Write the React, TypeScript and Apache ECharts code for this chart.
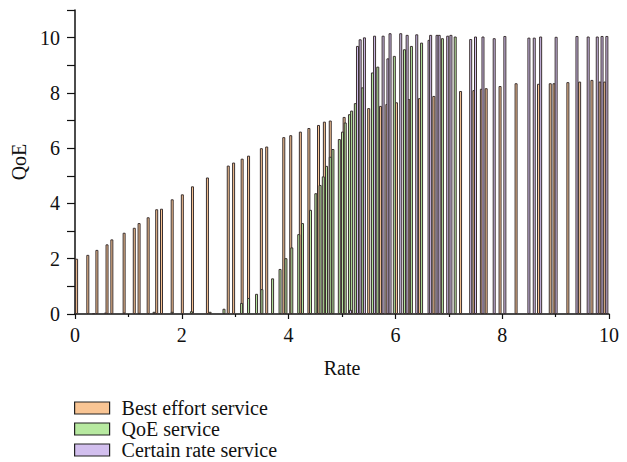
import React, { useEffect, useRef } from "react";
import * as echarts from "echarts";

const bestEffortRate = [0.03, 0.24, 0.41, 0.6, 0.69, 0.92, 1.11, 1.2, 1.37, 1.53, 1.62, 1.82, 2.01, 2.2, 2.48, 2.87, 2.97, 3.13, 3.25, 3.49, 3.59, 3.91, 4.04, 4.22, 4.38, 4.56, 4.67, 4.78, 5.04, 5.5, 5.72, 5.84, 6.02, 6.25, 6.45, 6.72, 7.22, 7.47, 7.61, 7.7, 7.96, 8.26, 8.68, 8.9, 8.97, 9.23, 9.45, 9.68, 9.83, 9.92];
const bestEffortQoE = [2.0, 2.14, 2.32, 2.52, 2.7, 2.94, 3.12, 3.29, 3.5, 3.79, 3.81, 4.15, 4.33, 4.62, 4.94, 5.37, 5.48, 5.62, 5.73, 6.0, 6.06, 6.4, 6.47, 6.6, 6.73, 6.84, 6.96, 7.0, 7.13, 7.45, 7.53, 7.6, 7.66, 7.78, 7.81, 7.89, 8.07, 8.1, 8.15, 8.17, 8.25, 8.35, 8.33, 8.35, 8.35, 8.39, 8.41, 8.47, 8.41, 8.41];

const qoeServiceRate = [0.35, 0.57, 0.92, 1.2, 1.48, 1.82, 2.18, 2.53, 2.79, 3.12, 3.25, 3.4, 3.5, 3.7, 3.84, 3.95, 4.06, 4.19, 4.26, 4.41, 4.51, 4.59, 4.65, 4.71, 4.78, 4.83, 4.95, 5.01, 5.06, 5.14, 5.18, 5.25, 5.38, 5.57, 5.67, 5.98, 6.17, 6.3, 6.49, 6.88, 7.12];
const qoeServiceQoE = [0.03, 0.05, 0.05, 0.04, 0.08, 0.08, 0.1, 0.08, 0.19, 0.4, 0.58, 0.73, 0.9, 1.29, 1.63, 2.02, 2.41, 2.89, 3.29, 3.77, 4.37, 4.67, 4.98, 5.36, 5.69, 5.97, 6.33, 6.6, 6.93, 7.23, 7.36, 7.63, 8.2, 8.74, 8.95, 9.34, 9.58, 9.7, 9.82, 9.98, 10.04];

const certainRate = [5.16, 5.29, 5.34, 5.42, 5.61, 5.77, 5.86, 5.9, 6.1, 6.22, 6.4, 6.63, 6.66, 6.78, 6.82, 6.98, 7.04, 7.41, 7.5, 7.64, 7.85, 8.05, 8.5, 8.6, 8.72, 9.01, 9.4, 9.61, 9.78, 9.87, 9.96];
const certainQoE = [0.15, 9.7, 9.94, 10.01, 10.07, 10.07, 9.25, 10.16, 10.16, 10.1, 10.12, 9.92, 10.1, 10.1, 10.1, 10.07, 10.1, 9.95, 10.04, 10.04, 9.98, 10.06, 10.0, 10.0, 10.04, 10.03, 10.06, 10.04, 10.04, 10.06, 10.06];

const seriesNames = ["Best effort service", "QoE service", "Certain rate service"];
const seriesColors = ["#f9c594", "#b7e9a0", "#d2bfee"];

const FONT = "'Liberation Serif', 'DejaVu Serif', serif";

function pairs(xs: number[], ys: number[]) {
  return xs.map((x, i) => [x, ys[i]]);
}

export default function App() {
  const ref = useRef<HTMLDivElement>(null);
  useEffect(() => {
    document.body.style.margin = "0";
    if (!ref.current) return;
    const chart = echarts.init(ref.current, undefined, { renderer: "svg" });
    const datasets = [
      pairs(bestEffortRate, bestEffortQoE),
      pairs(qoeServiceRate, qoeServiceQoE),
      pairs(certainRate, certainQoE),
    ];
    chart.setOption({
      animation: false,
      backgroundColor: "#ffffff",
      grid: { left: 75, right: 18, top: 10, bottom: 148, containLabel: false },
      legend: {
        orient: "vertical",
        left: 71,
        top: 395,
        height: 66,
        padding: 3,
        itemWidth: 35,
        itemHeight: 12,
        itemGap: 1,
        icon: "rect",
        itemStyle: { borderColor: "#222", borderWidth: 1.2 },
        textStyle: { fontFamily: FONT, fontSize: 20, lineHeight: 20, color: "#111", padding: [0, 0, 0, 7] },
        data: seriesNames,
      },
      xAxis: {
        type: "value",
        min: 0,
        max: 10,
        interval: 2,
        name: "Rate",
        nameLocation: "middle",
        nameGap: 44,
        nameTextStyle: { fontFamily: FONT, fontSize: 20, color: "#111" },
        axisLine: { show: true, lineStyle: { color: "#111", width: 1.5 } },
        axisTick: { show: true, inside: false, length: 5, lineStyle: { color: "#111", width: 1.2 } },
        minorTick: { show: true, splitNumber: 2, length: 3, lineStyle: { color: "#111", width: 1.2 } },
        splitLine: { show: false },
        axisLabel: { fontFamily: FONT, fontSize: 20, color: "#111", margin: 11 },
      },
      yAxis: {
        type: "value",
        min: 0,
        max: 11,
        interval: 1,
        name: "QoE",
        nameLocation: "middle",
        nameGap: 45,
        nameTextStyle: { fontFamily: FONT, fontSize: 20, color: "#111" },
        axisLine: { show: true, lineStyle: { color: "#111", width: 1.5 } },
        axisTick: { show: true, inside: false, length: 8, lineStyle: { color: "#111", width: 1.2 } },
        splitLine: { show: false },
        axisLabel: {
          fontFamily: FONT,
          fontSize: 20,
          color: "#111",
          margin: 15,
          formatter: (v: number) => (v % 2 === 0 && v <= 10 ? String(v) : ""),
        },
      },
      series: datasets.map((d, i) => ({
        name: seriesNames[i],
        type: "bar",
        data: d,
        barWidth: 3,
        barGap: "-100%",
        itemStyle: { color: seriesColors[i], borderColor: "#3a3030", borderWidth: 1 },
      })),
    });
    return () => chart.dispose();
  }, []);
  return <div ref={ref} style={{ width: 627, height: 462 }} />;
}
